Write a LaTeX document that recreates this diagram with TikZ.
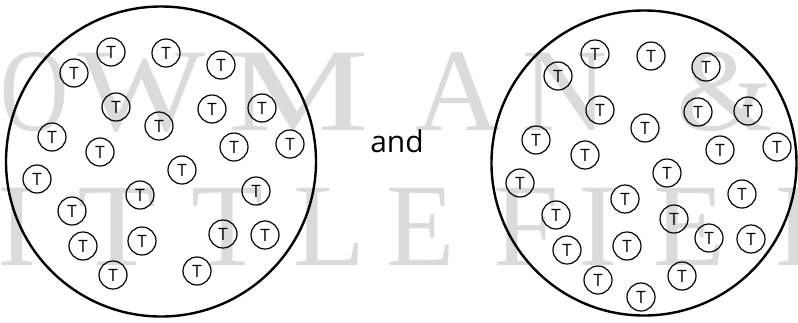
\documentclass[tikz,border=0pt]{standalone}
\usepackage{fontspec}
\setmainfont{Open Sans}
\newfontfamily\wmfont{Liberation Serif}
\begin{document}
\begin{tikzpicture}[x=1pt,y=-1pt,
  tok/.style={circle,draw=black,line width=1.2pt,minimum size=28pt,inner sep=0pt,font=\fontsize{17}{17}\selectfont},
  bigcirc/.style={circle,draw=black,line width=2.4pt,inner sep=0pt},
  wm/.style={anchor=base,inner sep=0pt,text=black!14,font=\wmfont\fontsize{118}{118}\selectfont}]
\useasboundingbox (0,0) rectangle (798,322);
% watermark
\node[wm,xscale=0.8] (wa) at (35,130) {O};
\node[wm,xscale=1.15] (wb) at (142,130) {W};
\node[wm,xscale=1.35] (wc) at (298,130) {M};
\node[wm] (wd) at (458,130) {A};
\node[wm] (we) at (565,130) {N};
\node[wm,xscale=1.05] (wf) at (725,130) {\&};
\node[wm] (wg) at (17,265) {I};
\node[wm,xscale=1.1] (wh) at (117,265) {T};
\node[wm] (wi) at (228,265) {T};
\node[wm] (wj) at (330,265) {L};
\node[wm,xscale=0.95] (wk) at (421,265) {E};
\node[wm] (wl) at (526,265) {F};
\node[wm] (wm) at (598,265) {I};
\node[wm] (wn) at (690,265) {E};
\node[wm] (wo) at (812,265) {L};
% big circles
\node[bigcirc,minimum size=310pt] (L) at (161,161.5) {};
\node[bigcirc,minimum size=305pt] (R) at (644,163) {};
% tokens left
\foreach \x/\y [count=\i] in {74/73,111/52,166/53,221/65,116/107,212/109,262/108,159/126,52/137,100/152,234/147,290/144,37/179,182/170,140/195,256/191,72/211,83/246,142/241,223/234,265/235,113/275,197/271}
  \node[tok] (l\i) at (\x,\y) {T};
% tokens right
\foreach \x/\y [count=\i] in {558/76,595/54,651/56,706/67,600/110,698/112,748/111,645/128,536/140,585/155,720/150,777/147,520/183,667/173,625/199,742/194,556/215,567/250,627/246,674/219,709/238,751/239,598/280,641/297,682/276}
  \node[tok] (r\i) at (\x,\y) {T};
\node[font=\fontsize{30}{30}\selectfont,anchor=base,inner sep=0pt] (andtxt) at (397,152) {and};
\end{tikzpicture}
\end{document}
